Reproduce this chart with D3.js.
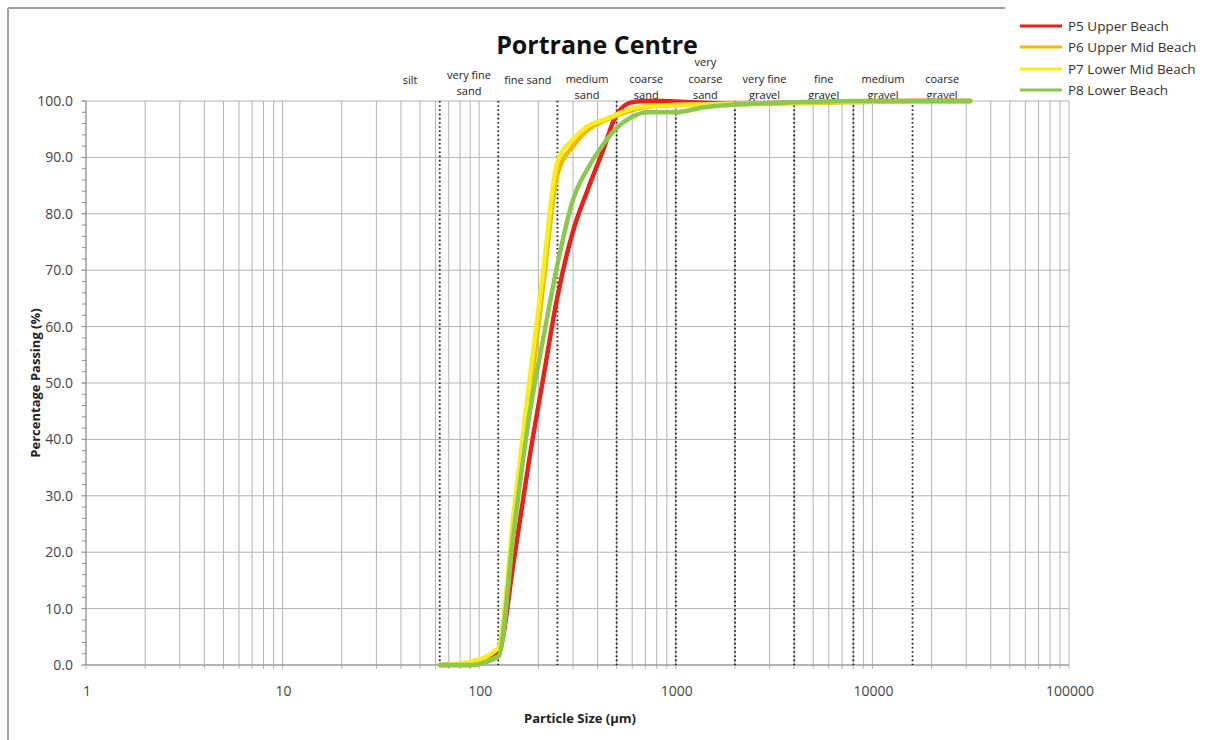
<!DOCTYPE html>
<html>
	<head>
		<title>Portrane Centre</title>
		<style type="text/css">
			body {
				margin: 0px;
				background-color: #fff;
			}
			text {
				font-family: "Open Sans", Lato, sans-serif;
			}
		</style>
		<script src="https://cdn.jsdelivr.net/npm/d3@7"></script>
	</head>
	<body>
		<script type="text/javascript">
			// sieve sizes (um) and percentage passing
			var sieves = [63, 90, 125, 150, 180, 212, 250, 300, 355, 425, 500, 600, 710, 850, 1000, 1400, 2000, 2800, 4000, 5600, 8000, 16000, 31500];
			var p5 = [0, 0, 2, 18.5, 36.6, 51, 65.3, 76.9, 84.1, 91.1, 97.6, 99.8, 100, 100, 99.9, 99.7, 99.5, 99.6, 99.7, 99.8, 99.9, 100, 100];
			var p6 = [0, 0.3, 1.5, 24.5, 47, 67.5, 87, 92, 94.8, 96.4, 97.4, 98.4, 99, 99.2, 99.3, 99.3, 99.4, 99.5, 99.6, 99.7, 99.8, 100, 100];
			var p7 = [0, 0.6, 3, 27.2, 50.3, 70, 89.3, 93.2, 95.5, 96.6, 97.6, 98.7, 99.1, 99.2, 99.3, 99.4, 99.5, 99.6, 99.7, 99.8, 99.9, 100, 100];
			var p8 = [0, 0, 1.5, 23.7, 44.3, 58, 71, 82.5, 87.9, 92.2, 95.2, 97.2, 98, 98, 98, 98.9, 99.4, 99.6, 99.8, 99.9, 100, 100, 100];
			var seriesNames = ["P5 Upper Beach", "P6 Upper Mid Beach", "P7 Lower Mid Beach", "P8 Lower Beach"];
			var seriesColors = ["#e8211b", "#f5b800", "#f7ee1c", "#8cc84e"];

			// Wentworth class boundaries and labels
			var boundaries = [63, 125, 250, 500, 1000, 2000, 4000, 8000, 16000];
			var classEdges = [31.5, 63, 125, 250, 500, 1000, 2000, 4000, 8000, 16000, 32000];
			var classLabels = [["silt"], ["very fine", "sand"], ["fine sand"], ["medium", "sand"], ["coarse", "sand"], ["very", "coarse", "sand"], ["very fine", "gravel"], ["fine", "gravel"], ["medium", "gravel"], ["coarse", "gravel"]];

			var xTicks = [1, 10, 100, 1000, 10000, 100000];
			var yTicks = [0, 10, 20, 30, 40, 50, 60, 70, 80, 90, 100];

			var W = 1210, H = 740;
			var plotL = 86, plotR = 1069, plotT = 101, plotB = 665;

			var svg = d3.select("body").append("svg")
				.attr("width", W)
				.attr("height", H);

			var x = d3.scaleLog().domain([1, 100000]).range([plotL, plotR]);
			var y = d3.scaleLinear().domain([0, 100]).range([plotB, plotT]);

			// frame
			svg.append("line").attr("x1", 8).attr("x2", 8).attr("y1", 8).attr("y2", H).attr("stroke", "#a0a0a0").attr("stroke-width", 2);
			svg.append("line").attr("x1", 8).attr("x2", 1005).attr("y1", 8).attr("y2", 8).attr("stroke", "#a0a0a0").attr("stroke-width", 2);

			// grid
			var minor = [];
			for (var d = 1; d < 100000; d *= 10) {
				for (var k = 1; k < 10; k++) minor.push(d * k);
			}
			minor.push(100000);
			svg.append("g").selectAll("line")
				.data(minor)
				.enter().append("line")
				.attr("x1", function(v) { return x(v); })
				.attr("x2", function(v) { return x(v); })
				.attr("y1", plotT)
				.attr("y2", plotB + 4)
				.attr("stroke", "#b4b4b4")
				.attr("stroke-width", 1);
			svg.append("g").selectAll("line")
				.data(yTicks)
				.enter().append("line")
				.attr("x1", plotL - 5)
				.attr("x2", plotR)
				.attr("y1", function(v) { return y(v); })
				.attr("y2", function(v) { return y(v); })
				.attr("stroke", "#b4b4b4")
				.attr("stroke-width", 1);
			// y minor ticks
			svg.append("g").selectAll("line")
				.data(d3.range(0, 101, 2))
				.enter().append("line")
				.attr("x1", plotL - 4)
				.attr("x2", plotL)
				.attr("y1", function(v) { return y(v); })
				.attr("y2", function(v) { return y(v); })
				.attr("stroke", "#909090");
			svg.append("line").attr("x1", plotL).attr("x2", plotL).attr("y1", plotT).attr("y2", plotB).attr("stroke", "#909090");
			svg.append("line").attr("x1", plotL).attr("x2", plotR).attr("y1", plotB).attr("y2", plotB).attr("stroke", "#909090");

			// dotted class boundaries
			svg.append("g").selectAll("line")
				.data(boundaries)
				.enter().append("line")
				.attr("x1", function(v) { return x(v); })
				.attr("x2", function(v) { return x(v); })
				.attr("y1", plotT)
				.attr("y2", plotB)
				.attr("stroke", "#1a1a1a")
				.attr("stroke-width", 1.8)
				.attr("stroke-dasharray", "1.6,2.6");

			// tick labels
			svg.append("g").selectAll("text")
				.data(yTicks)
				.enter().append("text")
				.attr("x", plotL - 13)
				.attr("y", function(v) { return y(v) + 5; })
				.attr("text-anchor", "end")
				.attr("font-size", 14)
				.attr("fill", "#454545")
				.text(function(v) { return v.toFixed(1); });
			svg.append("g").selectAll("text")
				.data(xTicks)
				.enter().append("text")
				.attr("x", function(v) { return x(v) + 1; })
				.attr("y", 696)
				.attr("text-anchor", "middle")
				.attr("font-size", 14)
				.attr("fill", "#454545")
				.text(function(v) { return v; });

			// class labels
			classLabels.forEach(function(lines, i) {
				var cx = x(Math.sqrt(classEdges[i] * classEdges[i + 1]));
				var t = svg.append("text")
					.attr("text-anchor", "middle")
					.attr("font-size", 11)
					.attr("fill", "#222");
				lines.forEach(function(s, j) {
					var yy = lines.length === 1 ? 84 : 99 - (lines.length - 1 - j) * 16.5;
					if (i === 1) yy -= 4;
					t.append("tspan").attr("x", cx).attr("y", yy).text(s);
				});
			});

			// curves
			var line = d3.line()
				.x(function(d) { return x(d[0]); })
				.y(function(d) { return y(d[1]); })
				.curve(d3.curveMonotoneX);
			[p5, p6, p7, p8].forEach(function(vals, i) {
				svg.append("path")
					.datum(sieves.map(function(s, j) { return [s, vals[j]]; }))
					.attr("d", line)
					.attr("fill", "none")
					.attr("stroke", seriesColors[i])
					.attr("stroke-width", 4.5)
					.attr("stroke-linejoin", "round")
					.attr("stroke-linecap", "round");
			});

			// titles
			svg.append("text")
				.attr("x", 597)
				.attr("y", 54)
				.attr("text-anchor", "middle")
				.attr("font-family", "Lato, sans-serif")
				.attr("font-size", 25)
				.attr("font-weight", "bold")
				.attr("fill", "#111")
				.text("Portrane Centre");
			svg.append("text")
				.attr("x", 580)
				.attr("y", 723)
				.attr("text-anchor", "middle")
				.attr("font-size", 13)
				.attr("font-weight", "bold")
				.attr("fill", "#222")
				.text("Particle Size (µm)");
			svg.append("text")
				.attr("transform", "translate(40,383) rotate(-90)")
				.attr("text-anchor", "middle")
				.attr("font-size", 13)
				.attr("font-weight", "bold")
				.attr("fill", "#222")
				.text("Percentage Passing (%)");

			// legend
			var legendY = [26, 47, 69, 90];
			seriesNames.forEach(function(name, i) {
				svg.append("line")
					.attr("x1", 1020).attr("x2", 1062)
					.attr("y1", legendY[i]).attr("y2", legendY[i])
					.attr("stroke", seriesColors[i])
					.attr("stroke-width", 3);
				svg.append("text")
					.attr("x", 1068)
					.attr("y", legendY[i] + 5)
					.attr("font-size", 13.5)
					.attr("fill", "#333")
					.text(name);
			});
		</script>
	</body>
</html>
